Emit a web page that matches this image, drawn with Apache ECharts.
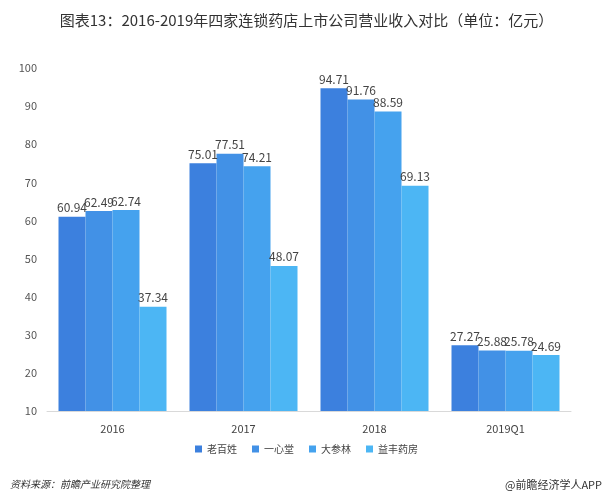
<!DOCTYPE html>
<html>
<head>
<meta charset="utf-8">
<script src="https://cdn.jsdelivr.net/npm/echarts@6/dist/echarts.min.js"></script>
<style>
  html, body { margin: 0; padding: 0; background: #fff; }
  #main { width: 613px; height: 500px; }
</style>
</head>
<body>
<div id="main"></div>
<script>
// categories and series
const years = ['2016', '2017', '2018', '2019Q1']
const laoBaiXing = [60.94, 75.01, 94.71, 27.27]
const yiXinTang = [62.49, 77.51, 91.76, 25.88]
const daShenLin = [62.74, 74.21, 88.59, 25.78]
const yiFeng = [37.34, 48.07, 69.13, 24.69]

const names = ['老百姓', '一心堂', '大参林', '益丰药房']
const colors = ['#3c80de', '#4291e6', '#45a2ee', '#4cb6f4']
const font = '"Noto Sans CJK SC", "Noto Sans", sans-serif'

let myChart = echarts.init(document.getElementById('main'))

function makeSeries (name, data) {
  return {
    name: name,
    type: 'bar',
    barWidth: 27,
    barGap: '0%',
    data: data,
    label: {
      show: true,
      position: 'top',
      distance: 3,
      color: '#444',
      fontSize: 12,
      fontFamily: font
    }
  }
}

let option = {
  color: colors,
  animation: false,
  title: [
    {
      text: '图表13：2016-2019年四家连锁药店上市公司营业收入对比（单位：亿元）',
      left: 'center',
      top: 8,
      textStyle: { fontSize: 15, fontWeight: 'normal', color: '#333', fontFamily: font }
    },
    {
      text: '资料来源：前瞻产业研究院整理',
      left: 5,
      top: 474,
      textStyle: { fontSize: 10, fontWeight: 'normal', fontStyle: 'italic', color: '#333', fontFamily: font }
    },
    {
      text: '@前瞻经济学人APP',
      right: 6,
      top: 474,
      textStyle: { fontSize: 11, fontWeight: 'normal', color: '#333', fontFamily: font }
    }
  ],
  grid: {
    left: 47,
    right: 42,
    top: 68,
    bottom: 89
  },
  legend: {
    data: names,
    bottom: 41,
    left: 'center',
    itemWidth: 7,
    itemHeight: 7,
    itemGap: 15,
    icon: 'rect',
    textStyle: { fontSize: 10, color: '#444', fontFamily: font }
  },
  xAxis: {
    type: 'category',
    data: years,
    axisTick: { show: false },
    axisLine: { lineStyle: { color: '#d9d9d9' } },
    axisLabel: { color: '#444', fontSize: 11, margin: 12, fontFamily: font }
  },
  yAxis: {
    type: 'value',
    min: 10,
    max: 100,
    interval: 10,
    axisLine: { show: false },
    axisTick: { show: false },
    splitLine: { show: false },
    axisLabel: { color: '#555', fontSize: 11, margin: 10, fontFamily: font }
  },
  series: [
    makeSeries(names[0], laoBaiXing),
    makeSeries(names[1], yiXinTang),
    makeSeries(names[2], daShenLin),
    makeSeries(names[3], yiFeng)
  ]
}
myChart.setOption(option)
</script>
</body>
</html>
